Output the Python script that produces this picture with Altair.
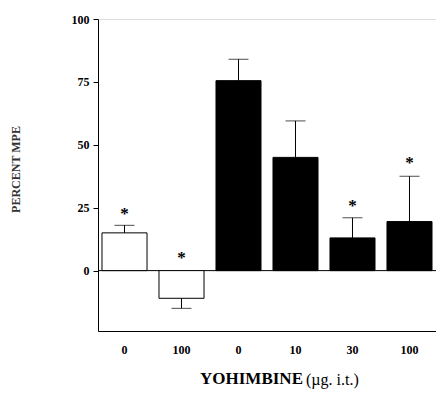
import altair as alt
import pandas as pd

labels = ["0", "100", "0", "10", "30", "100"]
means = [15, -11, 75.5, 45, 13, 19.5]
err_end = [18, -15, 84, 59.5, 21, 37.5]
fills = ["white", "white", "black", "black", "black", "black"]
star = [True, True, False, False, True, True]
star_pos = [23.8, 6.3, None, None, 27, 44]
x_title_bold = "YOHIMBINE"
x_title_rest = "(µg. i.t.)"
y_title = "PERCENT MPE"

idx = [str(i) for i in range(len(labels))]
df = pd.DataFrame({"idx": idx, "lab": labels, "mean": means, "err": err_end, "fill": fills})
stars = pd.DataFrame({"idx": [i for i, s in zip(idx, star) if s],
                      "pos": [p for p, s in zip(star_pos, star) if s]})

FONT = "Liberation Serif"
label_expr = "[" + ",".join(f"'{l}'" for l in labels) + "][toNumber(datum.value)]"

xscale = alt.Scale(domain=idx, paddingInner=0.21, paddingOuter=0.07)
yscale = alt.Scale(domain=[-24, 100], nice=False, zero=False)

x = alt.X("idx:N", scale=xscale, sort=idx,
          axis=alt.Axis(title=None, labelExpr=label_expr, labelAngle=0,
                        ticks=False, labelPadding=13,
                        labelFont=FONT, labelFontWeight="bold", labelFontSize=12,
                        domainColor="black", labelColor="black"))
y = alt.Y("mean:Q", scale=yscale,
          axis=alt.Axis(title=y_title, values=[0, 25, 50, 75, 100], grid=False,
                        tickSize=5, labelPadding=4, tickColor="black", domainColor="black",
                        labelFont=FONT, labelFontWeight="bold", labelFontSize=12, labelColor="black",
                        titleFont=FONT, titleFontWeight="bold", titleFontSize=12, titleColor="#333",
                        titleX=-76, titleY=150))

base = alt.Chart(df)
bars = base.mark_bar(stroke="black", strokeWidth=1).encode(
    x=x, y=y, y2=alt.Y2(datum=0),
    fill=alt.Fill("fill:N", scale=None))
stems = base.mark_rule(color="black", strokeWidth=1).encode(
    x=alt.X("idx:N", scale=xscale, sort=idx), y=alt.Y("mean:Q", scale=yscale), y2="err:Q")
caps = base.mark_tick(color="black", thickness=1, size=20, orient="horizontal").encode(
    x=alt.X("idx:N", scale=xscale, sort=idx), y=alt.Y("err:Q", scale=yscale))
zero = alt.Chart(pd.DataFrame({"z": [0]})).mark_rule(color="black", strokeWidth=1).encode(
    y=alt.Y("z:Q", scale=yscale))
stars_t = alt.Chart(stars).mark_text(text="*", font=FONT, fontWeight="bold", fontSize=17,
                                     baseline="middle", dy=3, color="black").encode(
    x=alt.X("idx:N", scale=xscale, sort=idx), y=alt.Y("pos:Q", scale=yscale))

title_df = pd.DataFrame({"t": [0]})
t1 = alt.Chart(title_df).mark_text(text=x_title_bold, font=FONT, fontWeight="bold", fontSize=17,
                                   align="right", baseline="middle", color="black").encode(
    x=alt.value(205), y=alt.value(360))
t2 = alt.Chart(title_df).mark_text(text=x_title_rest, font=FONT, fontSize=16,
                                   align="left", baseline="middle", color="black").encode(
    x=alt.value(208), y=alt.value(361))

chart = alt.layer(zero, bars, stems, caps, stars_t, t1, t2).properties(
    width=338, height=312,
    autosize=alt.AutoSizeParams(type="none"),
    padding={"left": 90, "top": 11, "right": 0, "bottom": 64},
).configure_view(strokeWidth=0).configure_axis(grid=False).configure(background="white")

chart.save("out.html", embed_options={"renderer": "svg", "actions": False})
